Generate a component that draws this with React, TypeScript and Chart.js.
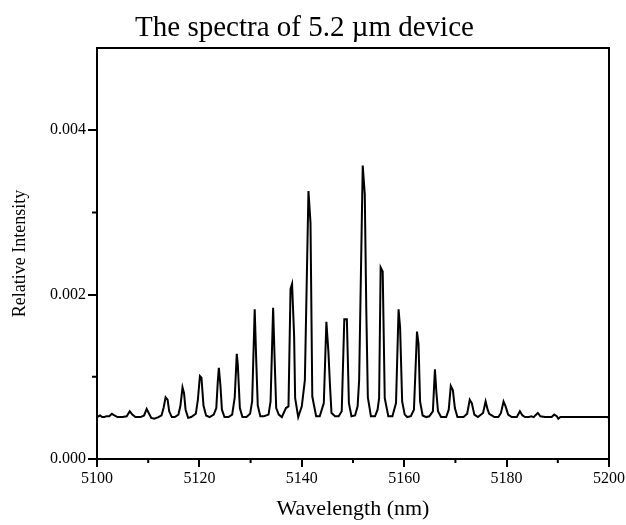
import React, { useEffect, useRef } from "react";
import { Chart, registerables } from "chart.js";

Chart.register(...registerables);

const chartTitle = "The spectra of 5.2 \u00b5m device";
const xTitle = "Wavelength (nm)";
const yTitle = "Relative Intensity";

const xMajorTicks = [5100, 5120, 5140, 5160, 5180, 5200];
const xMinorTicks = [5110, 5130, 5150, 5170, 5190];
const yMajorTicks = [0, 0.002, 0.004];
const yMinorTicks = [0.001, 0.003];

// [wavelength (nm), relative intensity]
const spectrum: [number, number][] = [
  [5100.0, 0.00051], [5100.3, 0.00052], [5100.6, 0.00053], [5101.0, 0.00051], [5101.4, 0.00051], [5101.8, 0.00052],
  [5102.4, 0.00052], [5102.9, 0.00055], [5103.4, 0.00053], [5104.0, 0.00051], [5105.0, 0.00051],
  [5105.8, 0.00052], [5106.4, 0.00058], [5106.9, 0.00054], [5107.5, 0.00051], [5108.5, 0.00051],
  [5109.2, 0.00053], [5109.7, 0.00061], [5110.1, 0.00056], [5110.6, 0.0005], [5111.2, 0.00049], [5112.0, 0.00051],
  [5112.6, 0.00053], [5113.0, 0.00062], [5113.4, 0.00075], [5113.8, 0.00072], [5114.1, 0.00058], [5114.6, 0.00051], [5115.2, 0.00051],
  [5115.9, 0.00054], [5116.3, 0.00065], [5116.7, 0.00087], [5117.0, 0.0008], [5117.3, 0.0006], [5117.8, 0.0005], [5118.4, 0.00051],
  [5119.3, 0.00055], [5119.7, 0.00072], [5120.1, 0.00101], [5120.4, 0.00099], [5120.8, 0.00065], [5121.3, 0.00053], [5122.0, 0.00051],
  [5122.8, 0.00054], [5123.3, 0.00062], [5123.6, 0.00095], [5123.8, 0.00111], [5124.1, 0.0009], [5124.4, 0.0006], [5124.9, 0.00051], [5125.7, 0.00051],
  [5126.4, 0.00054], [5126.9, 0.00075], [5127.3, 0.00128], [5127.5, 0.00115], [5127.9, 0.00062], [5128.4, 0.00051], [5129.2, 0.00051],
  [5129.9, 0.00055], [5130.3, 0.0007], [5130.8, 0.00182], [5131.1, 0.0012], [5131.4, 0.00065], [5131.9, 0.00052], [5132.6, 0.00052],
  [5133.5, 0.00054], [5133.9, 0.0007], [5134.4, 0.00184], [5134.7, 0.0012], [5135.0, 0.00062], [5135.5, 0.00054], [5136.1, 0.00051],
  [5136.9, 0.00062], [5137.4, 0.00064], [5137.8, 0.00207], [5138.1, 0.00213], [5138.5, 0.0015], [5138.7, 0.00074], [5139.3, 0.00051],
  [5140.0, 0.00064], [5140.6, 0.00096], [5141.3, 0.00326], [5141.7, 0.00287], [5142.05, 0.00076], [5142.8, 0.00052], [5143.5, 0.00052],
  [5144.3, 0.00068], [5144.8, 0.00167], [5145.2, 0.0013], [5145.5, 0.0009], [5145.8, 0.00056], [5146.5, 0.00052], [5147.2, 0.00052],
  [5147.8, 0.00058], [5148.3, 0.0017], [5148.8, 0.0017], [5149.2, 0.00068], [5149.7, 0.00052], [5150.4, 0.00053],
  [5150.9, 0.00064], [5151.2, 0.00096], [5151.9, 0.00357], [5152.3, 0.00322], [5152.6, 0.0018], [5152.9, 0.00075], [5153.5, 0.00052], [5154.3, 0.00052],
  [5154.8, 0.0006], [5155.1, 0.00074], [5155.4, 0.00233], [5155.8, 0.00228], [5156.2, 0.00074], [5156.9, 0.00052], [5157.7, 0.00052],
  [5158.4, 0.00068], [5158.9, 0.00182], [5159.2, 0.0016], [5159.6, 0.0007], [5160.1, 0.00054], [5160.6, 0.00051], [5161.3, 0.00052],
  [5161.9, 0.0006], [5162.5, 0.00155], [5162.8, 0.0014], [5163.1, 0.0007], [5163.6, 0.00053], [5164.3, 0.00051], [5164.9, 0.00052],
  [5165.6, 0.00058], [5166.0, 0.00109], [5166.3, 0.0008], [5166.6, 0.00058], [5167.2, 0.00051], [5168.2, 0.00051],
  [5168.7, 0.0006], [5169.1, 0.00089], [5169.5, 0.00084], [5169.9, 0.00062], [5170.4, 0.00051], [5171.6, 0.00051],
  [5172.3, 0.00055], [5172.8, 0.00072], [5173.2, 0.00068], [5173.7, 0.00054], [5174.4, 0.00051],
  [5175.4, 0.00056], [5175.9, 0.0007], [5176.3, 0.0006], [5176.6, 0.00055], [5177.1, 0.00053], [5177.6, 0.00051], [5178.4, 0.00051],
  [5178.9, 0.00056], [5179.4, 0.0007], [5179.8, 0.00064], [5180.3, 0.00054], [5181.0, 0.00051],
  [5182.0, 0.00051], [5182.6, 0.00058], [5183.1, 0.00053], [5183.6, 0.00051], [5184.3, 0.00051],
  [5184.8, 0.00052], [5185.3, 0.00051], [5185.6, 0.00053], [5186.1, 0.00056], [5186.6, 0.00052], [5187.5, 0.00051],
  [5188.8, 0.00051], [5189.3, 0.00054], [5189.8, 0.00052], [5190.1, 0.00049], [5190.5, 0.00051],
  [5199.8, 0.00051], [5200.0, 0.00049],
];

const FONT = "'Liberation Serif', 'Times New Roman', serif";

const framePlugin = {
  id: "frameAndMinorTicks",
  afterDraw(chart: any) {
    const { ctx, chartArea } = chart;
    const xs = chart.scales.x;
    const ys = chart.scales.y;
    ctx.save();
    ctx.strokeStyle = "#000";
    ctx.lineWidth = 2;
    ctx.strokeRect(chartArea.left, chartArea.top, chartArea.right - chartArea.left, chartArea.bottom - chartArea.top);
    ctx.beginPath();
    for (const v of xMinorTicks) {
      const px = xs.getPixelForValue(v);
      ctx.moveTo(px, chartArea.bottom);
      ctx.lineTo(px, chartArea.bottom + 4);
    }
    for (const v of yMinorTicks) {
      const py = ys.getPixelForValue(v);
      ctx.moveTo(chartArea.left, py);
      ctx.lineTo(chartArea.left - 5, py);
    }
    ctx.stroke();
    ctx.restore();
  },
};

export default function App() {
  const ref = useRef<HTMLCanvasElement | null>(null);
  useEffect(() => {
    document.body.style.margin = "0";
    const canvas = ref.current;
    if (!canvas) return;
    const chart = new Chart(canvas, {
      type: "line",
      data: {
        datasets: [
          {
            data: spectrum.map(([x, y]) => ({ x, y })),
            borderColor: "#000",
            borderWidth: 2,
            pointRadius: 0,
            tension: 0,
            fill: false,
          },
        ],
      },
      options: {
        responsive: false,
        animation: false,
        layout: { padding: { left: 0, right: 17, top: 0, bottom: 0 } },
        plugins: {
          legend: { display: false },
          tooltip: { enabled: false },
          title: {
            display: true,
            text: chartTitle,
            color: "#000",
            font: { family: FONT, size: 29, weight: "normal" },
            padding: { top: 10.5, bottom: 2.7 },
          },
        },
        scales: {
          x: {
            type: "linear",
            min: 5100,
            max: 5200,
            afterBuildTicks: (s: any) => {
              s.ticks = xMajorTicks.map((value) => ({ value }));
            },
            afterFit: (s: any) => {
              s.height = 66;
              s.paddingLeft = 0;
              s.paddingRight = 0;
            },
            border: { display: false },
            grid: {
              display: true,
              drawOnChartArea: false,
              drawTicks: true,
              tickLength: 8,
              color: "#000",
              lineWidth: 2,
            },
            ticks: {
              color: "#000",
              padding: 2,
              maxRotation: 0,
              autoSkip: false,
              font: { family: FONT, size: 16 },
              callback: (v: any) => String(v),
            },
            title: {
              display: true,
              text: xTitle,
              color: "#000",
              font: { family: FONT, size: 22 },
              padding: { top: 0, bottom: 3 },
            },
          },
          y: {
            type: "linear",
            min: 0,
            max: 0.005,
            afterBuildTicks: (s: any) => {
              s.ticks = yMajorTicks.map((value) => ({ value }));
            },
            afterFit: (s: any) => {
              s.width = 97;
              s.paddingTop = 0;
              s.paddingBottom = 0;
            },
            border: { display: false },
            grid: {
              display: true,
              drawOnChartArea: false,
              drawTicks: true,
              tickLength: 9,
              color: "#000",
              lineWidth: 2,
            },
            ticks: {
              color: "#000",
              padding: 2,
              autoSkip: false,
              font: { family: FONT, size: 16 },
              callback: (v: any) => Number(v).toFixed(3),
            },
            title: {
              display: true,
              text: yTitle,
              color: "#000",
              font: { family: FONT, size: 18 },
              padding: { top: 9, bottom: 0 },
            },
          },
        },
      },
      plugins: [framePlugin],
    } as any);
    return () => chart.destroy();
  }, []);
  return <canvas ref={ref} width={626} height={525} style={{ display: "block" }} />;
}
